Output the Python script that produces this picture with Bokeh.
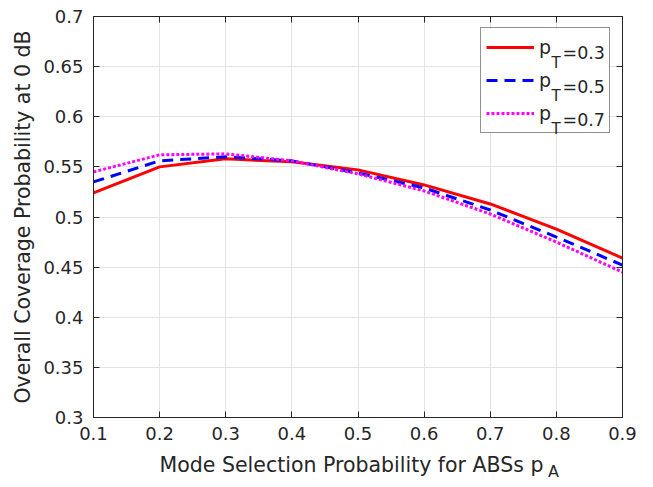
from bokeh.plotting import figure
from bokeh.layouts import column
from bokeh.models import (FixedTicker, LinearAxis, Legend, LegendItem, Label, Range1d,
                          BoxAnnotation)
from bokeh.embed import file_html
from bokeh.resources import INLINE

# ---- data ----
p_A = [0.1, 0.2, 0.3, 0.4, 0.5, 0.6, 0.7, 0.8, 0.9]
cov_pT03 = [0.524, 0.550, 0.558, 0.555, 0.547, 0.532, 0.513, 0.488, 0.459]
cov_pT05 = [0.535, 0.556, 0.560, 0.556, 0.544, 0.529, 0.507, 0.480, 0.452]
cov_pT07 = [0.545, 0.562, 0.563, 0.556, 0.543, 0.526, 0.503, 0.475, 0.445]
p_T = [0.3, 0.5, 0.7]
x_ticks = [0.1, 0.2, 0.3, 0.4, 0.5, 0.6, 0.7, 0.8, 0.9]
y_ticks = [0.3, 0.35, 0.4, 0.45, 0.5, 0.55, 0.6, 0.65, 0.7]
x_title = "Mode Selection Probability for ABSs p"
x_title_sub = "A"
y_title = "Overall Coverage Probability at 0 dB"

FONT = "DejaVu Sans"
TXT = "#262626"

p = figure(width=645, height=449, output_backend="svg", toolbar_location=None,
           x_range=Range1d(0.1, 0.9), y_range=Range1d(0.3, 0.7),
           min_border_left=93, min_border_right=23, min_border_top=16, min_border_bottom=32)
p.background_fill_color = "white"
p.border_fill_color = "white"
p.outline_line_color = TXT
p.outline_line_width = 1

# grid
for g in (p.xgrid, p.ygrid):
    g.grid_line_color = "#e3e3e3"
    g.grid_line_width = 1
p.xgrid.ticker = FixedTicker(ticks=x_ticks)
p.ygrid.ticker = FixedTicker(ticks=y_ticks)

def style_axis(ax, labels=True):
    ax.axis_line_color = TXT
    ax.major_tick_line_color = TXT
    ax.major_tick_in = 6
    ax.major_tick_out = 0
    ax.minor_tick_line_color = None
    ax.major_label_text_font = FONT
    ax.major_label_text_color = TXT
    ax.major_label_text_font_size = "18px"
    ax.axis_label_text_font = FONT
    ax.axis_label_text_font_style = "normal"
    ax.axis_label_text_color = TXT
    ax.axis_label_text_font_size = "20.5px"
    if not labels:
        ax.major_label_text_font_size = "0px"
        ax.major_label_standoff = 0
        ax.major_label_text_color = None

xa = p.xaxis[0]
ya = p.yaxis[0]
xa.ticker = FixedTicker(ticks=x_ticks)
ya.ticker = FixedTicker(ticks=y_ticks)
style_axis(xa)
style_axis(ya)
xa.major_label_standoff = 9
ya.major_label_standoff = 10
xa.axis_label = None
ya.axis_label = y_title
ya.axis_label_standoff = 5

top_ax = LinearAxis(ticker=FixedTicker(ticks=x_ticks))
right_ax = LinearAxis(ticker=FixedTicker(ticks=y_ticks))
style_axis(top_ax, labels=False)
style_axis(right_ax, labels=False)
p.add_layout(top_ax, "above")
p.add_layout(right_ax, "right")

# white backing of the legend box (hides grid lines), screen units relative to frame
LEG_L, LEG_B, LEG_W, LEG_H = 387, 284, 128, 104
p.add_layout(BoxAnnotation(left=LEG_L, right=LEG_L + LEG_W, bottom=LEG_B, top=LEG_B + LEG_H,
                           left_units="screen", right_units="screen",
                           bottom_units="screen", top_units="screen",
                           fill_color="white", fill_alpha=1, line_color=None,
                           level="underlay", propagate_hover=False))

# series
r1 = p.line(p_A, cov_pT03, line_color="#ff0000", line_width=3)
r2 = p.line(p_A, cov_pT05, line_color="#0000ff", line_width=3, line_dash="11 7")
r3 = p.line(p_A, cov_pT07, line_color="#ff00ff", line_width=3, line_dash="3 2")

legend = Legend(items=[LegendItem(label="p", renderers=[r]) for r in (r1, r2, r3)],
                location=(LEG_L, LEG_B), orientation="vertical",
                padding=5, spacing=5, margin=0,
                glyph_height=28, glyph_width=48, label_standoff=5,
                label_width=65, label_height=28,
                label_text_font=FONT, label_text_font_size="19px",
                label_text_color=TXT,
                border_line_color=TXT, border_line_width=1,
                background_fill_alpha=0)
p.add_layout(legend, "center")

# subscripts and values in legend (screen units relative to the frame)
leg_top = LEG_B + LEG_H
for i, v in enumerate(p_T):
    base_y_T = leg_top - 33 - i * 33.3
    base_y_v = leg_top - 23.7 - i * 33.3
    p.add_layout(Label(x=458, y=base_y_T, x_units="screen", y_units="screen", text="T",
                       text_font=FONT, text_font_size="15px", text_color=TXT,
                       text_baseline="alphabetic", text_align="left"))
    p.add_layout(Label(x=469, y=base_y_v, x_units="screen", y_units="screen", text=f"={v}",
                       text_font=FONT, text_font_size="17.5px", text_color=TXT,
                       text_baseline="alphabetic", text_align="left"))

# x-axis title strip (with its subscript) below the plot; its frame is aligned
# with the main frame (left edge at 93 px)
p2 = figure(width=645, height=30, output_backend="svg", toolbar_location=None,
            x_range=Range1d(0, 1), y_range=Range1d(0, 1),
            x_axis_type=None, y_axis_type=None, min_border=0)
p2.outline_line_color = None
p2.background_fill_color = "white"
p2.border_fill_color = "white"
p2.grid.visible = False
p2.add_layout(Label(x=450, y=15, x_units="screen", y_units="screen", text=x_title,
                    text_font=FONT, text_font_size="20.5px", text_color=TXT,
                    text_baseline="alphabetic", text_align="right"))
p2.add_layout(Label(x=454.5, y=8.5, x_units="screen", y_units="screen", text=x_title_sub,
                    text_font=FONT, text_font_size="16px", text_color=TXT,
                    text_baseline="alphabetic", text_align="left"))

layout = column(p, p2, spacing=0)
open("out.html", "w").write(file_html(layout, INLINE))
